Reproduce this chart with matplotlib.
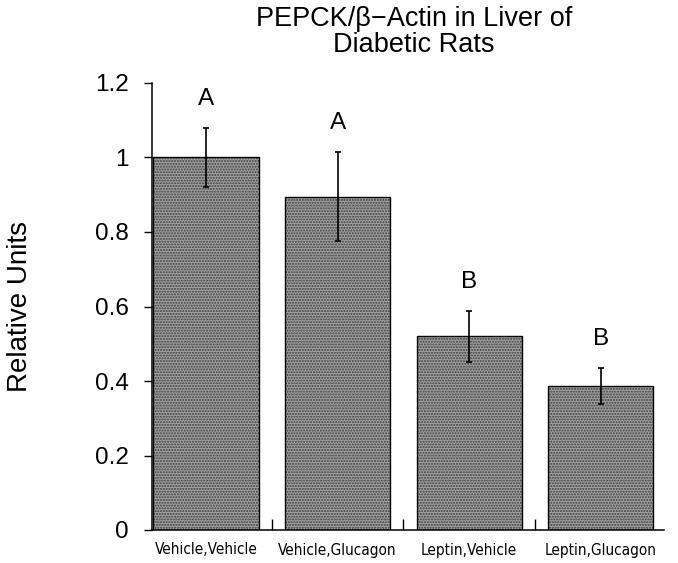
import matplotlib
matplotlib.use("Agg")
import matplotlib.pyplot as plt
from matplotlib.ticker import FixedLocator

plt.rcParams['font.family'] = ['Liberation Sans', 'DejaVu Sans']

groups = ["Vehicle,Vehicle", "Vehicle,Glucagon", "Leptin,Vehicle", "Leptin,Glucagon"]
means = [1.00, 0.895, 0.52, 0.387]
errors = [0.08, 0.12, 0.068, 0.048]
letters = ["A", "A", "B", "B"]
y_ticks = [0, 0.2, 0.4, 0.6, 0.8, 1.0, 1.2]
y_tick_labels = ["0", "0.2", "0.4", "0.6", "0.8", "1", "1.2"]

W, H = 678, 563
fig = plt.figure(figsize=(W / 100, H / 100), dpi=100)
ax = fig.add_axes([152 / W, 33 / H, 512 / W, 447 / H])

x = list(range(len(groups)))
# stippled fill
ax.bar(x, means, width=0.8, color="#a2a2a2", edgecolor="#3a3a3a",
       linewidth=0, hatch="......", zorder=2)
# outlines
ax.bar(x, means, width=0.8, fill=False, edgecolor="black", linewidth=1.0, zorder=3)
ax.errorbar(x, means, yerr=errors, fmt="none", ecolor="black",
            elinewidth=1.2, capsize=2.5, capthick=1.2, zorder=4)

for xi, m, e, lab in zip(x, means, errors, letters):
    ax.annotate(lab, (xi, m + e), xytext=(0, 21), textcoords="offset points",
                ha="center", va="center", fontsize=17.5)

ax.set_xlim(-0.41, 3.48)
ax.set_ylim(0, 1.2)
ax.set_yticks(y_ticks)
ax.set_yticklabels(y_tick_labels)
ax.tick_params(axis="y", direction="out", length=6, width=1, pad=11, labelsize=17.5)

# separators between groups and labels at group centres
ax.xaxis.set_major_locator(FixedLocator([0.5, 1.5, 2.5]))
ax.xaxis.set_minor_locator(FixedLocator(x))
ax.set_xticklabels([], minor=False)
ax.set_xticklabels(groups, minor=True, fontfamily=["DejaVu Sans"],
                   fontstretch="condensed", fontsize=11)
ax.tick_params(axis="x", which="major", direction="in", length=8, width=1)
ax.tick_params(axis="x", which="minor", length=0, pad=9)

for s in ("top", "right"):
    ax.spines[s].set_visible(False)
for s in ("left", "bottom"):
    ax.spines[s].set_linewidth(1.1)

ax.set_ylabel("Relative Units", fontsize=20)
ax.yaxis.set_label_coords(-0.232, 0.5)

fig.text(414 / W, 1 - 6 / H, "PEPCK/β\u2212Actin in Liver of\nDiabetic Rats",
         ha="center", va="top", fontsize=19.5, linespacing=1.0)

fig.savefig("out.png", dpi=100)
